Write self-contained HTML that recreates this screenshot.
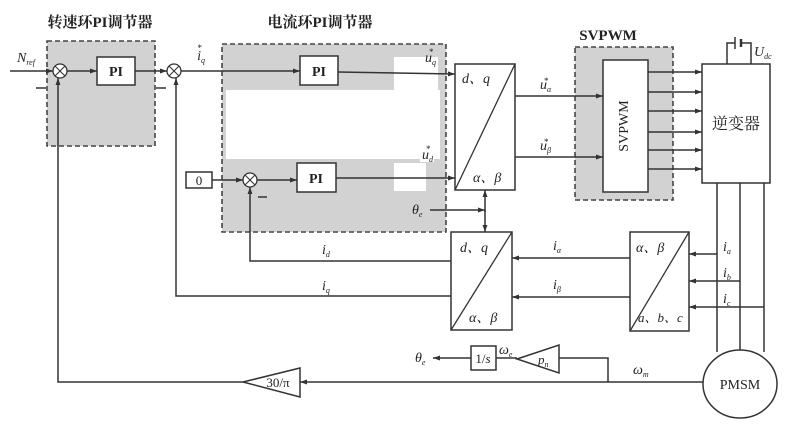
<!DOCTYPE html>
<html><head><meta charset="utf-8"><style>
html,body{margin:0;padding:0;background:#fff;}
svg{display:block;}
text{font-family:"Liberation Serif","Noto Serif CJK SC",serif;fill:#222;}
.it{font-style:italic;}
</style></head><body>
<svg width="801" height="429" viewBox="0 0 801 429" xmlns="http://www.w3.org/2000/svg">
<defs>
<marker id="a" viewBox="0 0 10 10" refX="10" refY="5" markerWidth="7" markerHeight="7" orient="auto-start-reverse" markerUnits="userSpaceOnUse">
<path d="M0,1.5 L10,5 L0,8.5 z" fill="#333"/></marker>
</defs>
<rect width="801" height="429" fill="#fff"/>
<g fill="#d2d2d2">
<rect x="47" y="41" width="108" height="105"/>
<rect x="222" y="44" width="224" height="188"/>
<rect x="575" y="47" width="98" height="153"/>
</g>
<g fill="#fff">
<rect x="226" y="90" width="214" height="69"/>
<rect x="394" y="57" width="44" height="34"/>
<rect x="394" y="163" width="32" height="28"/>
<rect x="420" y="150" width="14" height="12"/>
</g>
<g fill="none" stroke="#444" stroke-width="1.6" stroke-dasharray="5,3">
<rect x="47" y="41" width="108" height="105"/>
<rect x="222" y="44" width="224" height="188"/>
<rect x="575" y="47" width="98" height="153"/>
</g>
<text x="100" y="27" font-size="15" font-weight="bold" text-anchor="middle">转速环PI调节器</text>
<text x="320" y="27" font-size="15" font-weight="bold" text-anchor="middle">电流环PI调节器</text>
<text x="608" y="40" font-size="15" font-weight="bold" text-anchor="middle">SVPWM</text>
<g fill="#fff" stroke="#333" stroke-width="1.5">
<rect x="97" y="57" width="38" height="28"/>
<rect x="300" y="56" width="38" height="29"/>
<rect x="297" y="163" width="39" height="29"/>
<rect x="186" y="172" width="26" height="16"/>
<rect x="455" y="64" width="60" height="126"/>
<rect x="603" y="60" width="45" height="132"/>
<rect x="702" y="64" width="68" height="119"/>
<rect x="451" y="232" width="61" height="98"/>
<rect x="630" y="232" width="59" height="99"/>
<rect x="471" y="346" width="25" height="24"/>
<ellipse cx="740" cy="384" rx="37" ry="34"/>
<polygon points="517,359 559,345 559,373"/>
<polygon points="243,382 300,368 300,397"/>
</g>
<g stroke="#333" stroke-width="1.3" fill="none">
<line x1="455" y1="190" x2="515" y2="64"/>
<line x1="451" y1="330" x2="512" y2="232"/>
<line x1="630" y1="331" x2="689" y2="232"/>
</g>
<g stroke="#333" stroke-width="1.3" fill="#fff">
<circle cx="60" cy="71" r="7"/><circle cx="174" cy="71" r="7"/><circle cx="250" cy="180" r="7"/>
</g>
<g stroke="#333" stroke-width="1.1">
<line x1="55" y1="66" x2="65" y2="76"/><line x1="65" y1="66" x2="55" y2="76"/>
<line x1="169" y1="66" x2="179" y2="76"/><line x1="179" y1="66" x2="169" y2="76"/>
<line x1="245" y1="175" x2="255" y2="185"/><line x1="255" y1="175" x2="245" y2="185"/>
</g>
<g stroke="#333" stroke-width="1.5" fill="none" marker-end="url(#a)">
<line x1="10" y1="71" x2="53" y2="71"/>
<line x1="67" y1="71" x2="97" y2="71"/>
<line x1="135" y1="71" x2="167" y2="71"/>
<line x1="181" y1="71" x2="300" y2="71"/>
<line x1="338" y1="72" x2="455" y2="74"/>
<line x1="212" y1="180" x2="243" y2="180"/>
<line x1="257" y1="180" x2="297" y2="180"/>
<line x1="336" y1="178" x2="455" y2="178"/>
<line x1="515" y1="96" x2="603" y2="96"/>
<line x1="515" y1="157" x2="603" y2="157"/>
<line x1="648" y1="72" x2="702" y2="72"/>
<line x1="648" y1="92" x2="702" y2="92"/>
<line x1="648" y1="111" x2="702" y2="111"/>
<line x1="648" y1="132" x2="702" y2="132"/>
<line x1="648" y1="150" x2="702" y2="150"/>
<line x1="648" y1="169" x2="702" y2="169"/>
<line x1="430" y1="210" x2="485" y2="210"/>
<line x1="485" y1="212" x2="485" y2="190"/>
<line x1="485" y1="210" x2="485" y2="232"/>
<line x1="630" y1="258" x2="512" y2="258"/>
<line x1="630" y1="297" x2="512" y2="297"/>
<line x1="717" y1="254" x2="689" y2="254"/>
<line x1="740" y1="281" x2="689" y2="281"/>
<line x1="764" y1="307" x2="689" y2="307"/>
<line x1="471" y1="358" x2="433" y2="358"/>
<polyline points="451,261 250,261 250,187"/>
<polyline points="451,296 176,296 176,78"/>
<polyline points="703,382 300,382"/>
<polyline points="243,382 58,382 58,78"/>
</g>
<g stroke="#333" stroke-width="1.5" fill="none">
<line x1="717" y1="183" x2="717" y2="352"/>
<line x1="740" y1="183" x2="740" y2="350"/>
<line x1="764" y1="183" x2="764" y2="352"/>
<polyline points="608,382 608,358 559,358"/>
<line x1="496" y1="358" x2="517" y2="358"/>
<polyline points="727,64 727,43 735,43"/>
<polyline points="741,43 751,43 751,64"/>
<line x1="735" y1="37" x2="735" y2="49"/>
<line x1="741" y1="39" x2="741" y2="47" stroke-width="2.5"/>
<line x1="36" y1="88" x2="46" y2="88"/>
<line x1="156" y1="88" x2="166" y2="88"/>
<line x1="258" y1="197" x2="267" y2="197"/>
</g>
<g font-size="14" text-anchor="middle">
<text x="116" y="76" font-weight="bold">PI</text>
<text x="319" y="76" font-weight="bold">PI</text>
<text x="316" y="183" font-weight="bold">PI</text>
<text x="199" y="185" font-size="13">0</text>
<text x="625" y="126" font-size="14" transform="rotate(-90 625 126)" dominant-baseline="middle">SVPWM</text>
<text x="736" y="129" font-size="16">逆变器</text>
<text x="740" y="389" font-size="14">PMSM</text>
<text x="483" y="363" font-size="13">1/<tspan class="it">s</tspan></text>
<text x="278" y="387" font-size="13">30/π</text>
</g>
<g class="it" font-size="14">
<text x="17" y="62">N<tspan font-size="8" dy="3">ref</tspan></text>
<text x="197" y="60">i<tspan font-size="8" dy="3">q</tspan><tspan font-size="9" dx="-8" dy="-12">*</tspan></text>
<text x="425" y="62">u<tspan font-size="8" dy="3">q</tspan></text>
<text x="422" y="159">u<tspan font-size="8" dy="3">d</tspan></text>
<text x="462" y="83">d、q</text>
<text x="473" y="182">α、β</text>
<text x="540" y="89">u<tspan font-size="8" dy="3">α</tspan></text>
<text x="540" y="150">u<tspan font-size="8" dy="3">β</tspan></text>
<text x="412" y="214">θ<tspan font-size="8" dy="3">e</tspan></text>
<text x="460" y="252">d、q</text>
<text x="469" y="322">α、β</text>
<text x="636" y="252">α、β</text>
<text x="638" y="322" font-size="13">a、b、c</text>
<text x="553" y="250">i<tspan font-size="8" dy="3">α</tspan></text>
<text x="553" y="289">i<tspan font-size="8" dy="3">β</tspan></text>
<text x="322" y="254">i<tspan font-size="8" dy="3">d</tspan></text>
<text x="322" y="290">i<tspan font-size="8" dy="3">q</tspan></text>
<text x="723" y="251">i<tspan font-size="8" dy="3">a</tspan></text>
<text x="723" y="277">i<tspan font-size="8" dy="3">b</tspan></text>
<text x="723" y="303">i<tspan font-size="8" dy="3">c</tspan></text>
<text x="415" y="362">θ<tspan font-size="8" dy="3">e</tspan></text>
<text x="499" y="354">ω<tspan font-size="8" dy="3">e</tspan></text>
<text x="538" y="364" font-size="13">p<tspan font-size="8" dy="3">n</tspan></text>
<text x="633" y="374">ω<tspan font-size="8" dy="3">m</tspan></text>
<text x="754" y="56">U<tspan font-size="8" dy="3">dc</tspan></text>
</g>
<g font-size="9" fill="#222">
<text x="544" y="84">*</text><text x="544" y="145">*</text>
<text x="429" y="55">*</text><text x="426" y="152">*</text>
</g>
</svg>
</body></html>
